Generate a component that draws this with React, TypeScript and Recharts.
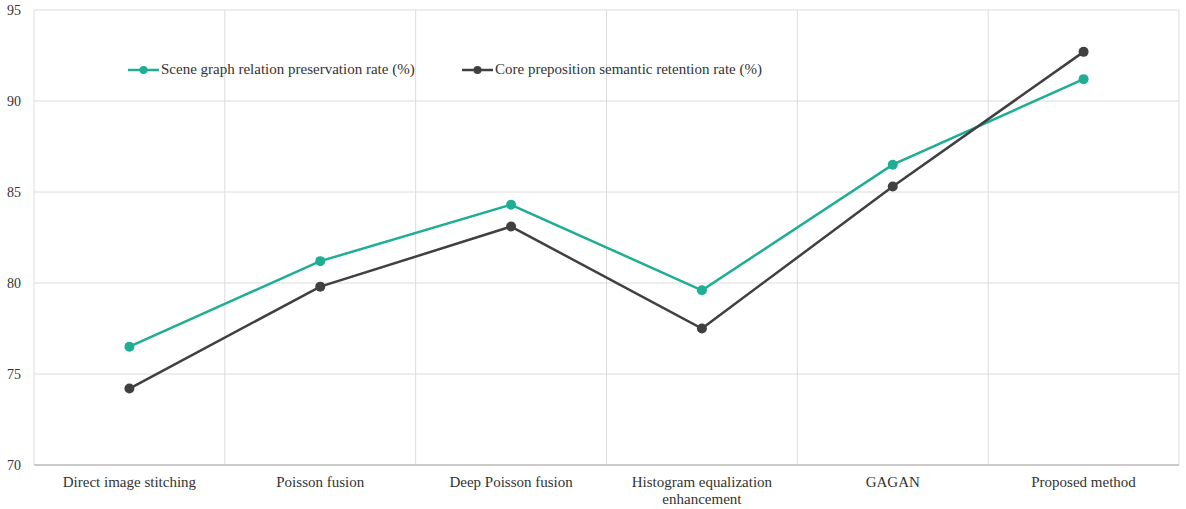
import React from 'react'
import { LineChart, Line, XAxis, YAxis, CartesianGrid, ReferenceLine, Text } from 'recharts'

const C = {
  green: '#1fae94', dark: '#404040', grid: '#dcdcdc', axis: '#bfbfbf', text: '#333333',
}
const FONT = '"Liberation Serif", "Times New Roman", serif'

const methods = [
  'Direct image stitching',
  'Poisson fusion',
  'Deep Poisson fusion',
  'Histogram equalization enhancement',
  'GAGAN',
  'Proposed method',
]
const relationRate = [76.5, 81.2, 84.3, 79.6, 86.5, 91.2]
const prepositionRate = [74.2, 79.8, 83.1, 77.5, 85.3, 92.7]
const yTicks = [70, 75, 80, 85, 90, 95]
const bandEdges = [0, 1, 2, 3, 4, 5, 6]

const series = [
  { key: 'relation', name: 'Scene graph relation preservation rate (%)', color: C.green, left: 128 },
  { key: 'preposition', name: 'Core preposition semantic retention rate (%)', color: C.dark, left: 462 },
]

const data = methods.map((m, i) => ({
  method: m,
  band: i + 0.5,
  relation: relationRate[i],
  preposition: prepositionRate[i],
}))

function CatTick(props: any) {
  const { x, y, payload } = props
  return (
    <Text x={x} y={y} width={175} textAnchor="middle" verticalAnchor="start"
      lineHeight={17} style={{ fontFamily: FONT, fontSize: 15, fill: C.text }}>
      {payload.value}
    </Text>
  )
}

export default function App() {
  const bandW = (1186 - 34 - 7) / 6
  return (
    <div style={{ position: 'absolute', left: 0, top: 0, width: 1186, height: 509, background: '#fff' }}>
      <LineChart width={1186} height={509} data={data} margin={{ top: 10, right: 7, bottom: 0, left: 0 }}>
        <CartesianGrid stroke={C.grid} vertical={false} />
        <XAxis xAxisId="band" type="number" dataKey="band" domain={[0, 6]} ticks={bandEdges} height={0} hide />
        <XAxis dataKey="method" tick={<CatTick />} tickLine={false} interval={0} height={44}
          padding={{ left: bandW / 2, right: bandW / 2 }}
          axisLine={{ stroke: C.axis, strokeWidth: 1.5 }} tickMargin={5} />
        <YAxis domain={[70, 95]} ticks={yTicks} width={34} tickSize={0} tickMargin={13}
          axisLine={false} tick={{ fontFamily: FONT, fontSize: 14, fill: C.text }} />
        {bandEdges.map(b => (
          <ReferenceLine key={b} xAxisId="band" x={b} stroke={C.grid} />
        ))}
        {series.map(s => (
          <Line key={s.key} type="linear" dataKey={s.key} name={s.name} stroke={s.color}
            strokeWidth={2.5} dot={{ r: 5, fill: s.color, stroke: s.color, strokeWidth: 0 }}
            activeDot={false} isAnimationActive={false} />
        ))}
      </LineChart>
      {series.map(s => (
        <div key={s.key} style={{ position: 'absolute', left: s.left, top: 61, display: 'flex', alignItems: 'center',
          fontFamily: FONT, fontSize: 15, color: C.text, whiteSpace: 'nowrap' }}>
          <svg width={32} height={12} style={{ marginRight: 1 }}>
            <line x1={0} y1={6} x2={31} y2={6} stroke={s.color} strokeWidth={2.5} />
            <circle cx={15.5} cy={6} r={4} fill={s.color} />
          </svg>
          {s.name}
        </div>
      ))}
    </div>
  )
}
